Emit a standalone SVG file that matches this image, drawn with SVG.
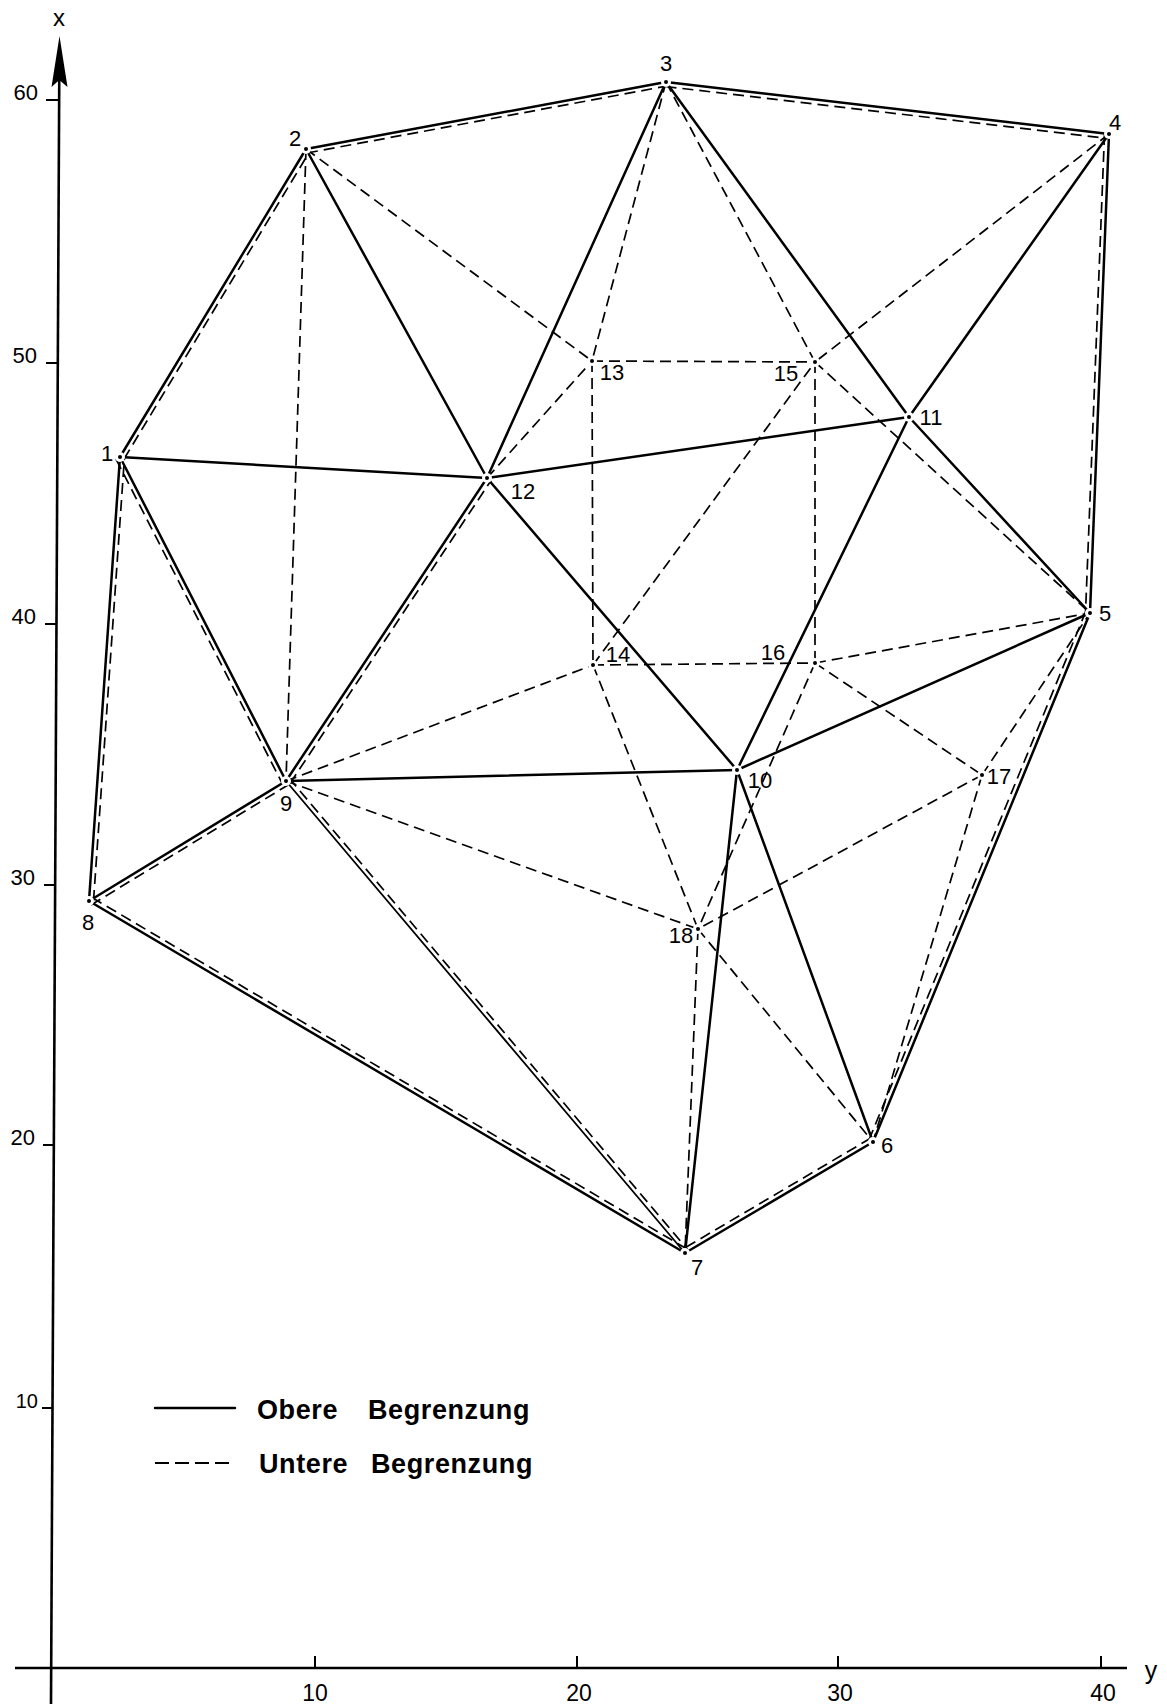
<svg xmlns="http://www.w3.org/2000/svg" width="1167" height="1704" viewBox="0 0 1167 1704">
<style>
  .bg{fill:#ffffff}
  .axis{stroke:#000;stroke-width:2.6;fill:none;stroke-linecap:butt}
  .tick{stroke:#000;stroke-width:2;fill:none}
  .solid{stroke:#000;stroke-width:2.5;fill:none;stroke-linecap:round}
  .thin{stroke:#000;stroke-width:1.8;fill:none;stroke-linecap:round}
  .dash{stroke:#000;stroke-width:1.7;fill:none;stroke-dasharray:11 6}
  .halo{fill:#ffffff}
  .dot{fill:#000}
  .lbl{font-family:"Liberation Sans","DejaVu Sans",Arial,sans-serif;font-size:22px;fill:#000;text-anchor:middle}
  .tl{font-family:"Liberation Sans","DejaVu Sans",Arial,sans-serif;font-size:22px;fill:#000}
  .leg{font-family:"Liberation Sans","DejaVu Sans",Arial,sans-serif;font-size:27px;font-weight:bold;fill:#000;letter-spacing:0.6px}
</style>
<rect class="bg" x="0" y="0" width="1167" height="1704"/>

<g id="axes">
  <line class="axis" x1="59.3" y1="70" x2="51" y2="1704"/>
  <path d="M59.5,36 L67.5,87 L59.3,80 L51.5,87 Z" fill="#000"/>
  <text class="lbl" x="59" y="26" style="font-size:24px">x</text>
  <line class="axis" x1="15" y1="1668" x2="1127" y2="1668"/>
  <text class="lbl" x="1151" y="1679" style="font-size:25px">y</text>
  <line class="tick" x1="46" y1="100" x2="59" y2="100"/>
  <line class="tick" x1="46" y1="363" x2="58" y2="363"/>
  <line class="tick" x1="45" y1="624" x2="57" y2="624"/>
  <line class="tick" x1="44" y1="885" x2="56" y2="885"/>
  <line class="tick" x1="43" y1="1145" x2="55" y2="1145"/>
  <line class="tick" x1="42" y1="1408" x2="53" y2="1408"/>
  <text class="tl" x="38" y="100" text-anchor="end">60</text>
  <text class="tl" x="37" y="363" text-anchor="end">50</text>
  <text class="tl" x="36" y="624" text-anchor="end">40</text>
  <text class="tl" x="35" y="885" text-anchor="end">30</text>
  <text class="tl" x="35" y="1145" text-anchor="end">20</text>
  <text class="tl" x="38" y="1408" text-anchor="end" style="font-size:20px">10</text>
  <line class="tick" x1="315" y1="1656" x2="315" y2="1668"/>
  <line class="tick" x1="577" y1="1656" x2="577" y2="1668"/>
  <line class="tick" x1="838" y1="1656" x2="838" y2="1668"/>
  <line class="tick" x1="1101" y1="1656" x2="1101" y2="1668"/>
  <text class="lbl" x="315" y="1701" style="font-size:23px">10</text>
  <text class="lbl" x="579" y="1701" style="font-size:23px">20</text>
  <text class="lbl" x="840" y="1701" style="font-size:23px">30</text>
  <text class="lbl" x="1103" y="1701" style="font-size:23px">40</text>
</g>

<g id="connectors">
  <!-- Obere Begrenzung (solid) -->
  <line class="solid" x1="120" y1="457" x2="306" y2="149"/>
  <line class="solid" x1="306" y1="149" x2="666" y2="82"/>
  <line class="solid" x1="666" y1="82" x2="1109" y2="134"/>
  <line class="solid" x1="1109" y1="134" x2="1090" y2="613"/>
  <line class="solid" x1="1090" y1="613" x2="873" y2="1142"/>
  <line class="solid" x1="873" y1="1142" x2="685" y2="1253"/>
  <line class="solid" x1="685" y1="1253" x2="89" y2="901"/>
  <line class="solid" x1="89" y1="901" x2="120" y2="457"/>
  <line class="solid" x1="120" y1="457" x2="286" y2="781"/>
  <line class="solid" x1="89" y1="901" x2="286" y2="781"/>
  <line class="thin" x1="286" y1="781" x2="685" y2="1253"/>
  <line class="solid" x1="286" y1="781" x2="487" y2="478"/>
  <line class="solid" x1="120" y1="457" x2="487" y2="478"/>
  <line class="solid" x1="306" y1="149" x2="487" y2="478"/>
  <line class="solid" x1="666" y1="82" x2="487" y2="478"/>
  <line class="solid" x1="487" y1="478" x2="909" y2="417"/>
  <line class="solid" x1="666" y1="82" x2="909" y2="417"/>
  <line class="solid" x1="1109" y1="134" x2="909" y2="417"/>
  <line class="solid" x1="909" y1="417" x2="1090" y2="613"/>
  <line class="solid" x1="487" y1="478" x2="737" y2="770"/>
  <line class="solid" x1="286" y1="781" x2="737" y2="770"/>
  <line class="solid" x1="909" y1="417" x2="737" y2="770"/>
  <line class="solid" x1="737" y1="770" x2="1090" y2="613"/>
  <line class="solid" x1="737" y1="770" x2="685" y2="1253"/>
  <line class="solid" x1="737" y1="770" x2="873" y2="1142"/>

  <!-- Untere Begrenzung (dashed), doubled edges -->
  <line class="dash" x1="124" y1="459" x2="310" y2="151"/>
  <line class="dash" x1="307" y1="153" x2="667" y2="86"/>
  <line class="dash" x1="665.5" y1="86.5" x2="1108.5" y2="138.5"/>
  <line class="dash" x1="1104.5" y1="134" x2="1085.5" y2="613"/>
  <line class="dash" x1="1086" y1="611" x2="869" y2="1140"/>
  <line class="dash" x1="871" y1="1138" x2="683" y2="1249"/>
  <line class="dash" x1="687" y1="1249" x2="91" y2="897"/>
  <line class="dash" x1="93.5" y1="901" x2="124.5" y2="457"/>
  <line class="dash" x1="116" y1="459" x2="282" y2="783"/>
  <line class="dash" x1="91" y1="905" x2="288" y2="785"/>
  <line class="dash" x1="289" y1="778" x2="688" y2="1250"/>
  <line class="dash" x1="290" y1="783.5" x2="491" y2="480.5"/>

  <!-- Untere Begrenzung (dashed), single edges -->
  <line class="dash" x1="306" y1="149" x2="286" y2="781"/>
  <line class="dash" x1="306" y1="149" x2="592" y2="361"/>
  <line class="dash" x1="666" y1="82" x2="592" y2="361"/>
  <line class="dash" x1="666" y1="82" x2="815" y2="362"/>
  <line class="dash" x1="1109" y1="134" x2="815" y2="362"/>
  <line class="dash" x1="487" y1="478" x2="592" y2="361"/>
  <line class="dash" x1="592" y1="361" x2="815" y2="362"/>
  <line class="dash" x1="592" y1="361" x2="593" y2="665"/>
  <line class="dash" x1="815" y1="362" x2="815" y2="663"/>
  <line class="dash" x1="593" y1="665" x2="815" y2="663"/>
  <line class="dash" x1="593" y1="665" x2="815" y2="362"/>
  <line class="dash" x1="815" y1="362" x2="1090" y2="613"/>
  <line class="dash" x1="286" y1="781" x2="593" y2="665"/>
  <line class="dash" x1="593" y1="665" x2="698" y2="929"/>
  <line class="dash" x1="815" y1="663" x2="698" y2="929"/>
  <line class="dash" x1="815" y1="663" x2="1090" y2="613"/>
  <line class="dash" x1="815" y1="663" x2="982" y2="775"/>
  <line class="dash" x1="982" y1="775" x2="1090" y2="613"/>
  <line class="dash" x1="982" y1="775" x2="698" y2="929"/>
  <line class="dash" x1="982" y1="775" x2="873" y2="1142"/>
  <line class="dash" x1="286" y1="781" x2="698" y2="929"/>
  <line class="dash" x1="698" y1="929" x2="873" y2="1142"/>
  <line class="dash" x1="698" y1="929" x2="685" y2="1253"/>
</g>

<g id="nodes">
  <g id="node-1"><circle class="halo" cx="120" cy="457" r="5"/><circle class="dot" cx="120" cy="457" r="2"/><text class="lbl" x="107" y="461">1</text></g>
  <g id="node-2"><circle class="halo" cx="306" cy="149" r="5"/><circle class="dot" cx="306" cy="149" r="2"/><text class="lbl" x="295" y="146">2</text></g>
  <g id="node-3"><circle class="halo" cx="666" cy="82" r="5"/><circle class="dot" cx="666" cy="82" r="2"/><text class="lbl" x="666" y="71">3</text></g>
  <g id="node-4"><circle class="halo" cx="1109" cy="134" r="5"/><circle class="dot" cx="1109" cy="134" r="2"/><text class="lbl" x="1115" y="130">4</text></g>
  <g id="node-5"><circle class="halo" cx="1090" cy="613" r="5"/><circle class="dot" cx="1090" cy="613" r="2"/><text class="lbl" x="1105" y="621">5</text></g>
  <g id="node-6"><circle class="halo" cx="873" cy="1142" r="5"/><circle class="dot" cx="873" cy="1142" r="2"/><text class="lbl" x="887" y="1153">6</text></g>
  <g id="node-7"><circle class="halo" cx="685" cy="1253" r="5"/><circle class="dot" cx="685" cy="1253" r="2"/><text class="lbl" x="697" y="1275">7</text></g>
  <g id="node-8"><circle class="halo" cx="89" cy="901" r="5"/><circle class="dot" cx="89" cy="901" r="2"/><text class="lbl" x="88" y="930">8</text></g>
  <g id="node-9"><circle class="halo" cx="286" cy="781" r="5"/><circle class="dot" cx="286" cy="781" r="2"/><text class="lbl" x="286" y="811">9</text></g>
  <g id="node-10"><circle class="halo" cx="737" cy="770" r="5"/><circle class="dot" cx="737" cy="770" r="2"/><text class="lbl" x="760" y="788">10</text></g>
  <g id="node-11"><circle class="halo" cx="909" cy="417" r="5"/><circle class="dot" cx="909" cy="417" r="2"/><text class="lbl" x="931" y="425">11</text></g>
  <g id="node-12"><circle class="halo" cx="487" cy="478" r="5"/><circle class="dot" cx="487" cy="478" r="2"/><text class="lbl" x="523" y="499">12</text></g>
  <g id="node-13"><circle class="halo" cx="592" cy="361" r="5"/><circle class="dot" cx="592" cy="361" r="2"/><text class="lbl" x="612" y="380">13</text></g>
  <g id="node-14"><circle class="halo" cx="593" cy="665" r="5"/><circle class="dot" cx="593" cy="665" r="2"/><text class="lbl" x="618" y="662">14</text></g>
  <g id="node-15"><circle class="halo" cx="815" cy="362" r="5"/><circle class="dot" cx="815" cy="362" r="2"/><text class="lbl" x="786" y="381">15</text></g>
  <g id="node-16"><circle class="halo" cx="815" cy="663" r="5"/><circle class="dot" cx="815" cy="663" r="2"/><text class="lbl" x="773" y="660">16</text></g>
  <g id="node-17"><circle class="halo" cx="982" cy="775" r="5"/><circle class="dot" cx="982" cy="775" r="2"/><text class="lbl" x="999" y="784">17</text></g>
  <g id="node-18"><circle class="halo" cx="698" cy="929" r="5"/><circle class="dot" cx="698" cy="929" r="2"/><text class="lbl" x="681" y="943">18</text></g>
</g>

<g id="legend">
  <line class="solid" x1="155" y1="1408" x2="235" y2="1408"/>
  <line class="dash" x1="155" y1="1463" x2="235" y2="1463" style="stroke-dasharray:14 6;stroke-width:2"/>
  <text class="leg" y="1419"><tspan x="257">Obere</tspan><tspan x="368">Begrenzung</tspan></text>
  <text class="leg" y="1473"><tspan x="259">Untere</tspan><tspan x="371">Begrenzung</tspan></text>
</g>
</svg>
